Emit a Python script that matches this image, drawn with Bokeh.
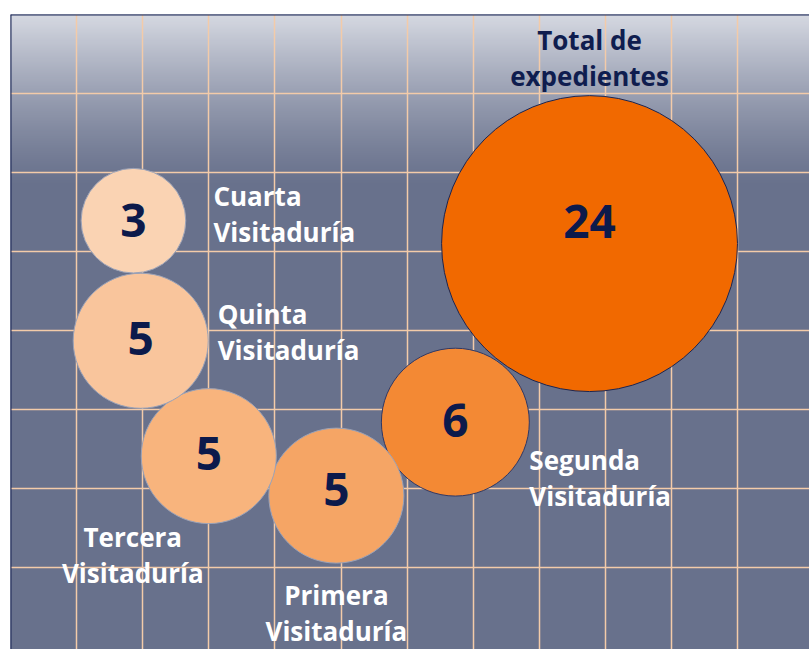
import numpy as np
from bokeh.plotting import figure
from bokeh.models import ColumnDataSource, FixedTicker, Span
from bokeh.core.properties import value
from bokeh.embed import file_html
from bokeh.resources import INLINE

# ---- data ----
names = ["Total de\nexpedientes", "Segunda\nVisitaduría", "Primera\nVisitaduría",
         "Tercera\nVisitaduría", "Quinta\nVisitaduría", "Cuarta\nVisitaduría"]
counts = [24, 6, 5, 5, 5, 3]
bubble_x = [8.76, 6.73, 4.93, 3.00, 1.97, 1.86]
bubble_y = [5.10, 2.84, 1.91, 2.41, 3.87, 5.39]

# ---- styles / layout ----
fills = ["#f16900", "#f38934", "#f5a565", "#f8b47d", "#f9c59c", "#fad3b3"]
lines = ["#1c2550", "#2f3865", "#9aa2b8", "#9aa2b8", "#9aa2b8", "#9aa2b8"]
px_per_sqrt = 60.4  # diameter in px per sqrt(count)
num_dy = [-22, -2, -6, -3, -2, 0]
lab_dx = [0, 74, 0, -76, 77, 80]
lab_dy = [-186, 56, 117, 99, -9, -7]
lab_align = ["center", "left", "center", "center", "left", "left"]
lab_color = ["#0f1d4f", "white", "white", "white", "white", "white"]

W, H = 809, 649
BL, BT = 10, 14
PXX, PXY = 66.1, 79.0
xmax = (W - BL) / PXX
ytop = 8.0
ybot = ytop - (H - BT) / PXY

p = figure(width=W, height=H, output_backend="svg", toolbar_location=None,
           x_range=(0, xmax), y_range=(ybot, ytop),
           x_axis_location=None, y_axis_location=None,
           min_border_left=BL, min_border_top=BT, min_border_right=0, min_border_bottom=0)
p.outline_line_color = None
p.background_fill_color = "#68718c"
p.border_fill_color = "white"

# gradient background
ny = 600
ys = np.linspace(ybot, ytop, ny)
t = np.clip((ytop - ys) / 2.2, 0, 1)
t = 1 - (1 - t) ** 1.3
top = np.array([214, 217, 226]); bot = np.array([104, 113, 140])
rgb = top[None, :] * (1 - t[:, None]) + bot[None, :] * t[:, None]
img = np.empty((ny, 2), dtype=np.uint32)
view = img.view(dtype=np.uint8).reshape((ny, 2, 4))
for c in range(3):
    view[:, :, c] = rgb[:, c][:, None].astype(np.uint8)
view[:, :, 3] = 255
p.image_rgba(image=[img], x=0, y=ybot, dw=xmax, dh=ytop - ybot, level="image")

p.xgrid.ticker = FixedTicker(ticks=list(range(1, 12)))
p.ygrid.ticker = FixedTicker(ticks=list(range(1, 8)))
p.grid.grid_line_color = "#f3cba9"
p.grid.grid_line_width = 1.5
p.grid.level = "underlay"

p.add_layout(Span(location=0, dimension="height", line_color="#1a2656", line_width=2))
p.add_layout(Span(location=ytop, dimension="width", line_color="#1a2656", line_width=2))

src = ColumnDataSource(dict(
    x=bubble_x, y=bubble_y, n=counts, label=[str(c) for c in counts], name=names,
    size=[px_per_sqrt * np.sqrt(c) for c in counts],
    fill=fills, line=lines, ndy=num_dy, ldx=lab_dx, ldy=lab_dy,
    lal=lab_align, lcol=lab_color,
))

p.scatter(x="x", y="y", size="size", marker="circle", source=src,
          fill_color="fill", line_color="line", line_width=1)

p.text(x="x", y="y", text="label", y_offset="ndy", source=src,
       text_font=value("Open Sans"), text_font_style="bold", text_font_size="46px",
       text_color="#0c1a4b", text_align="center", text_baseline="middle")

p.text(x="x", y="y", text="name", x_offset="ldx", y_offset="ldy", source=src,
       text_font=value("Open Sans"), text_font_style="bold", text_font_size="26px",
       text_color="lcol", text_align="lal", text_baseline="middle",
       text_line_height=1.0)

open("out.html", "w").write(file_html(p, INLINE))
